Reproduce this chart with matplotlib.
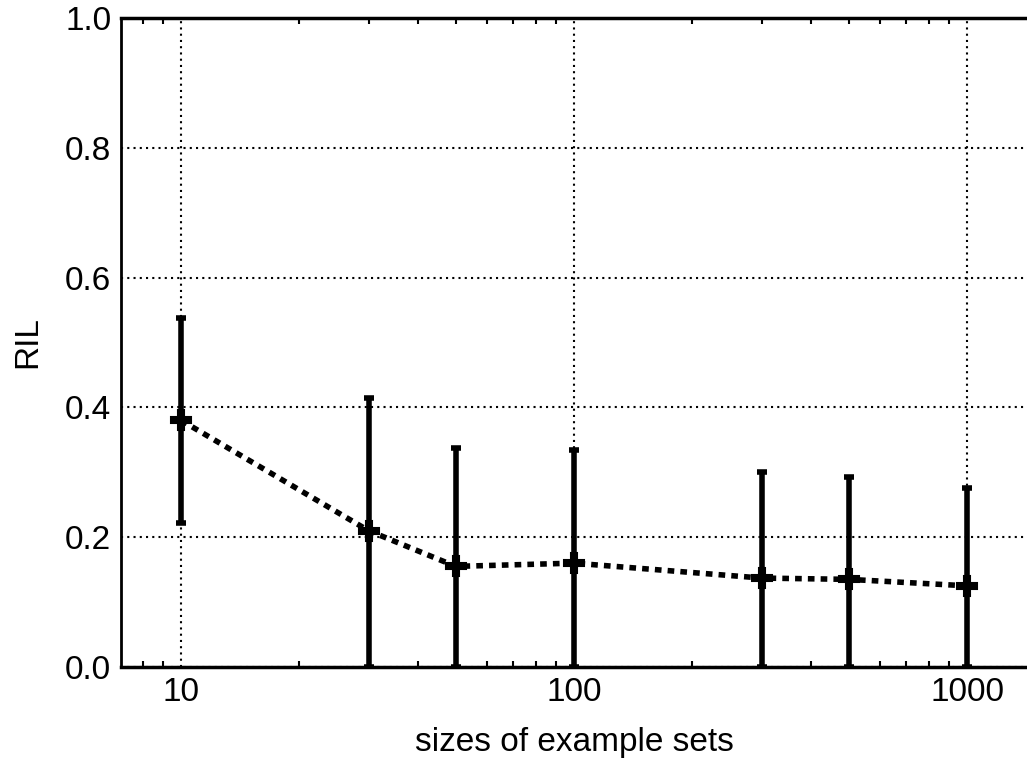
import matplotlib
matplotlib.use("Agg")
import matplotlib.pyplot as plt
from matplotlib.ticker import FixedLocator, NullFormatter

plt.rcParams['font.family'] = ['Liberation Sans', 'DejaVu Sans']

sizes = [10, 30, 50, 100, 300, 500, 1000]
ril = [0.38, 0.21, 0.155, 0.16, 0.137, 0.135, 0.125]
err_low = [0.222, 0.0, 0.0, 0.0, 0.0, 0.0, 0.0]
err_high = [0.537, 0.415, 0.337, 0.335, 0.300, 0.292, 0.276]

fig = plt.figure(figsize=(10.27, 7.6), dpi=100)
ax = fig.add_axes([0.1178, 0.1224, 0.8822, 0.8539])

lower = [r - l for r, l in zip(ril, err_low)]
upper = [h - r for r, h in zip(ril, err_high)]
ax.errorbar(sizes, ril, yerr=[lower, upper], fmt='none', ecolor='black',
            elinewidth=4, capsize=3.5, capthick=4, zorder=3)
ax.plot(sizes, ril, color='black', linestyle=(0, (1.2, 1.1)), linewidth=4,
        marker='P', markersize=15, markeredgewidth=1.5, zorder=4)

ax.set_xscale('log')
ax.set_xlim(7.03, 1420)
ax.set_ylim(0, 1.0)
ax.xaxis.set_major_locator(FixedLocator([10, 100, 1000]))
ax.xaxis.set_major_formatter(plt.FuncFormatter(lambda v, p: '%d' % v))
ax.xaxis.set_minor_formatter(NullFormatter())
ax.set_yticks([0.0, 0.2, 0.4, 0.6, 0.8, 1.0])
ax.set_yticklabels(['0.0', '0.2', '0.4', '0.6', '0.8', '1.0'])

ax.grid(True, which='major', color='black', linestyle=(0, (1, 2)), linewidth=1.5)
ax.tick_params(which='major', length=0, labelsize=24, pad=7)
ax.tick_params(which='minor', direction='in', length=4, width=1.5, top=True, bottom=True)
ax.tick_params(axis='y', which='minor', left=False, right=False)

ax.spines['left'].set_linewidth(2)
ax.spines['bottom'].set_linewidth(2.5)
ax.spines['top'].set_linewidth(2.5)
ax.spines['right'].set_visible(False)

ax.set_xlabel('sizes of example sets', fontsize=24, labelpad=14)
ax.set_ylabel('RIL', fontsize=24, labelpad=16)

fig.savefig('out.png', dpi=100)
